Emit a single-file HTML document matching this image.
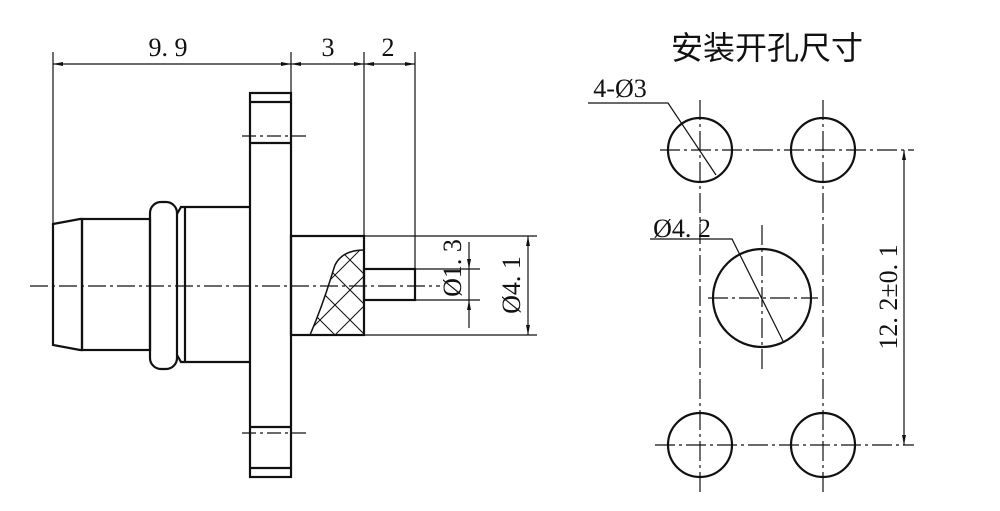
<!DOCTYPE html>
<html><head><meta charset="utf-8"><style>body{margin:0;background:#fff}svg{display:block}</style></head><body>
<svg width="1000" height="511" viewBox="0 0 1000 511" xmlns="http://www.w3.org/2000/svg">
<g stroke="#111" fill="none" stroke-width="2.2">
<path d="M53,224 L80,219 L82,219 L82,350 L80,350 L53,345 Z"/>
<rect x="82" y="219" width="68" height="131"/>
<rect x="150" y="202" width="27" height="167" rx="11"/>
<path d="M177,214 L181,207 L250,207 M177,355 L181,362 L250,362 M185,207 L185,362"/>
<rect x="250" y="93" width="41" height="384"/>
<line x1="250" y1="102" x2="291" y2="102"/><line x1="250" y1="143" x2="291" y2="143"/>
<line x1="250" y1="427" x2="291" y2="427"/><line x1="250" y1="468" x2="291" y2="468"/>
<rect x="291" y="236" width="73" height="99"/>
<rect x="364" y="269" width="51" height="31"/>
<path d="M364,250 C350,250 340,255 335,265 C330,280 325,300 310,335" stroke-width="1.5"/>
</g>
<clipPath id="h"><path d="M364,250 C350,250 340,255 335,265 C330,280 325,300 310,335 L364,335 Z"/></clipPath>
<g clip-path="url(#h)" stroke="#111" stroke-width="1">
<path d="M300,240 L400,340 M300,270 L370,340 M330,240 L400,310 M300,300 L340,340 M360,240 L400,280 M400,240 L300,340 M370,240 L270,340 M400,270 L330,340 M340,240 L240,340 M400,300 L360,340"/>
</g>
<g stroke="#111" stroke-width="1.2" fill="none">
<line x1="30" y1="286" x2="440" y2="286" stroke-dasharray="18,4,3,4"/>
<line x1="242" y1="136" x2="307" y2="136" stroke-dasharray="14,4,3,4"/>
<line x1="242" y1="433" x2="307" y2="433" stroke-dasharray="14,4,3,4"/>
<line x1="53" y1="52" x2="53" y2="224"/>
<line x1="291" y1="52" x2="291" y2="93"/>
<line x1="364" y1="52" x2="364" y2="236"/>
<line x1="415" y1="52" x2="415" y2="269"/>
<line x1="53" y1="64" x2="415" y2="64"/>
<line x1="364" y1="236" x2="537" y2="236"/><line x1="364" y1="335" x2="537" y2="335"/>
<line x1="415" y1="269" x2="480" y2="269"/><line x1="415" y1="300" x2="480" y2="300"/>
<line x1="528" y1="236" x2="528" y2="335"/>
<line x1="469" y1="242" x2="469" y2="328"/>
</g>
<g fill="#111">
<path d="M53,64 l10,-2 v4z M291,64 l-10,-2 v4z M291,64 l10,-2 v4z M364,64 l-10,-2 v4z M364,64 l10,-2 v4z M415,64 l-10,-2 v4z"/>
<path d="M528,236 l-2,10 h4z M528,335 l-2,-10 h4z M469,269 l-2,-10 h4z M469,300 l-2,10 h4z"/>
</g>
<g font-family="Liberation Serif, serif" font-size="26" fill="#111" text-anchor="middle">
<text x="168" y="56">9. 9</text>
<text x="328" y="56">3</text>
<text x="388" y="56">2</text>
<text transform="translate(461,268) rotate(-90)">Ø1. 3</text>
<text transform="translate(520,285) rotate(-90)">Ø4. 1</text>
<text x="620" y="97">4-Ø3</text>
<text x="682" y="237">Ø4. 2</text>
<text transform="translate(897,297) rotate(-90)">12. 2±0. 1</text>
</g>
<text x="767" y="59" font-family="Noto Sans CJK SC, sans-serif" font-size="32" text-anchor="middle" fill="#111">安装开孔尺寸</text>
<g stroke="#111" fill="none">
<circle cx="700" cy="150" r="32" stroke-width="2.2"/><circle cx="823" cy="150" r="32" stroke-width="2.2"/>
<circle cx="700" cy="445" r="32" stroke-width="2.2"/><circle cx="823" cy="445" r="32" stroke-width="2.2"/>
<circle cx="762" cy="298" r="49" stroke-width="2.2"/>
<g stroke-width="1.2" stroke-dasharray="20,4,3,4">
<line x1="700" y1="100" x2="700" y2="495"/><line x1="823" y1="100" x2="823" y2="495"/>
<line x1="660" y1="150" x2="914" y2="150"/><line x1="655" y1="445" x2="914" y2="445"/>
<line x1="708" y1="298" x2="818" y2="298"/><line x1="762" y1="225" x2="762" y2="370"/>
</g>
<g stroke-width="1.2">
<line x1="904" y1="150" x2="904" y2="445"/>
<path d="M588,103 L668,103 L716,175"/>
<path d="M650,239 L732,239 L783,341"/>
</g>
</g>
<g fill="#111"><path d="M904,150 l-2,10 h4z M904,445 l-2,-10 h4z"/></g>
</svg>
</body></html>
